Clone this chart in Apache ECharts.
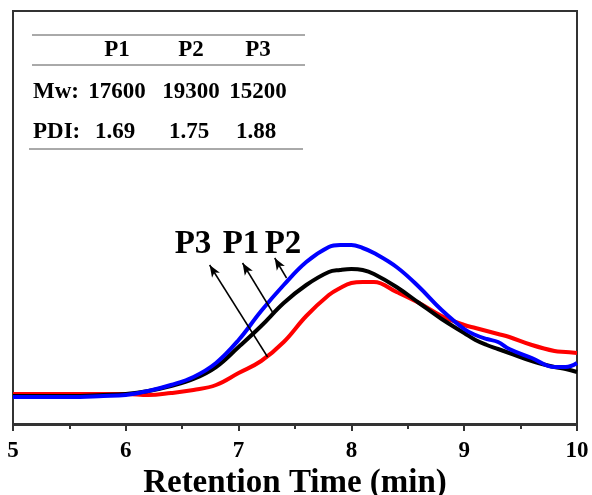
<!DOCTYPE html>
<html>
<head>
<meta charset="utf-8">
<title>GPC</title>
<script src="https://cdn.jsdelivr.net/npm/echarts@6/dist/echarts.min.js"></script>
<style>
  html, body { margin: 0; padding: 0; background: #fff; }
  #chart { width: 592px; height: 495px; }
</style>
</head>
<body>
<div id="chart"></div>
<script>
// retention time (min)
const xTime = [5.0, 5.5, 5.8, 6.0, 6.2, 6.4, 6.6, 6.8, 7.0, 7.2, 7.4, 7.6, 7.8, 7.9, 8.0, 8.1, 8.2, 8.4, 8.6, 8.8, 9.0, 9.1, 9.2, 9.3, 9.4, 9.6, 9.8, 9.9, 10.0]
// detector response (a.u.)
const p1 = [28, 28, 29, 30, 33, 38, 45, 57, 77, 98, 121, 139, 152, 154, 155, 154, 150, 137, 121, 105, 91, 84, 79, 75, 71, 63, 57, 55, 52]
const p2 = [27, 27, 28, 29, 33, 39, 47, 61, 84, 113, 139, 162, 177, 179, 179, 176, 171, 157, 137, 114, 95, 89, 85, 82, 75, 66, 57, 57, 61]
const p3 = [30, 30, 30, 30, 29, 31, 34, 39, 51, 63, 82, 108, 129, 136, 141, 142, 142, 132, 121, 108, 99, 96, 93, 90, 87, 79, 73, 72, 71]

const xTicks = [5, 6, 7, 8, 9, 10]

// table in the upper left corner
const tableHead = ['P1', 'P2', 'P3']
const mwValues = ['17600', '19300', '15200']
const pdiValues = ['1.69', '1.75', '1.88']

const serif = "'Times New Roman', 'Liberation Serif', serif"

function pairs(ys) {
  return xTime.map((x, i) => [x, ys[i]])
}

const chart = echarts.init(document.getElementById('chart'))

const colX = [117, 191, 258]
const tableText = []
tableHead.forEach((t, i) => tableText.push({ text: t, x: colX[i], y: 50 }))
mwValues.forEach((t, i) => tableText.push({ text: t, x: colX[i], y: 92 }))
pdiValues.forEach((t, i) => tableText.push({ text: t, x: colX[i] - 2, y: 132 }))

const graphics = []
tableText.forEach(c => {
  graphics.push({
    type: 'text', x: c.x, y: c.y,
    style: { text: c.text, font: 'bold 23px ' + serif, fill: '#000', textAlign: 'center', textVerticalAlign: 'middle' }
  })
})
graphics.push({ type: 'text', x: 33, y: 92, style: { text: 'Mw:', font: 'bold 23px ' + serif, fill: '#000', textVerticalAlign: 'middle' } })
graphics.push({ type: 'text', x: 33, y: 132, style: { text: 'PDI:', font: 'bold 23px ' + serif, fill: '#000', textVerticalAlign: 'middle' } })
;[[32, 35, 305], [32, 65, 305], [29, 149, 303]].forEach(l => {
  graphics.push({
    type: 'line',
    shape: { x1: l[0], y1: l[1], x2: l[2], y2: l[1] },
    style: { stroke: '#555', lineWidth: 1 }
  })
})
// curve names near arrows
;[['P3', 193], ['P1', 241], ['P2', 283]].forEach(p => {
  graphics.push({
    type: 'text', x: p[1], y: 244,
    style: { text: p[0], font: 'bold 33px ' + serif, fill: '#000', textAlign: 'center', textVerticalAlign: 'middle' }
  })
})

// arrows from each curve up to its name
const arrows = [
  [[7.257, 67], [6.743, 159]],
  [[7.30, 112], [7.035, 161]],
  [[7.425, 146], [7.32, 166]]
]

chart.setOption({
  backgroundColor: '#fff',
  animation: false,
  grid: {
    left: 13,
    right: 15,
    top: 11,
    bottom: 70,
    outerBoundsMode: 'none',
    show: true,
    borderColor: '#333',
    borderWidth: 2
  },
  xAxis: {
    type: 'value',
    min: 5,
    max: 10,
    interval: 1,
    name: 'Retention Time (min)',
    nameLocation: 'middle',
    nameGap: 42,
    nameMoveOverlap: false,
    nameTextStyle: { fontFamily: serif, fontWeight: 'bold', fontSize: 33, color: '#000' },
    axisLine: { lineStyle: { color: '#333', width: 2 } },
    axisTick: { show: true, length: 7, lineStyle: { color: '#333', width: 2 } },
    minorTick: { show: true, splitNumber: 2, length: 5, lineStyle: { color: '#333', width: 2 } },
    axisLabel: {
      margin: 15,
      fontFamily: serif,
      fontWeight: 'bold',
      fontSize: 23,
      color: '#000',
      formatter: v => (xTicks.indexOf(v) >= 0 ? String(v) : '')
    },
    splitLine: { show: false }
  },
  yAxis: {
    type: 'value',
    min: -1,
    max: 413,
    axisLine: { show: true, lineStyle: { color: '#333', width: 2 } },
    axisTick: { show: false },
    axisLabel: { show: false },
    splitLine: { show: false }
  },
  series: [
    {
      name: 'P3',
      type: 'line',
      data: pairs(p3),
      smooth: 0.4,
      showSymbol: false,
      lineStyle: { color: '#ff0000', width: 4 },
      z: 2
    },
    {
      name: 'P1',
      type: 'line',
      data: pairs(p1),
      smooth: 0.4,
      showSymbol: false,
      lineStyle: { color: '#000000', width: 4 },
      z: 3
    },
    {
      name: 'P2',
      type: 'line',
      data: pairs(p2),
      smooth: 0.4,
      showSymbol: false,
      lineStyle: { color: '#0000ff', width: 4 },
      z: 4,
      markLine: {
        silent: true,
        symbol: ['none', 'arrow'],
        symbolSize: [7, 12],
        label: { show: false },
        lineStyle: { color: '#000', width: 1.5, type: 'solid' },
        data: arrows.map(a => [{ coord: a[0] }, { coord: a[1] }])
      }
    }
  ],
  graphic: graphics
})
</script>
</body>
</html>
